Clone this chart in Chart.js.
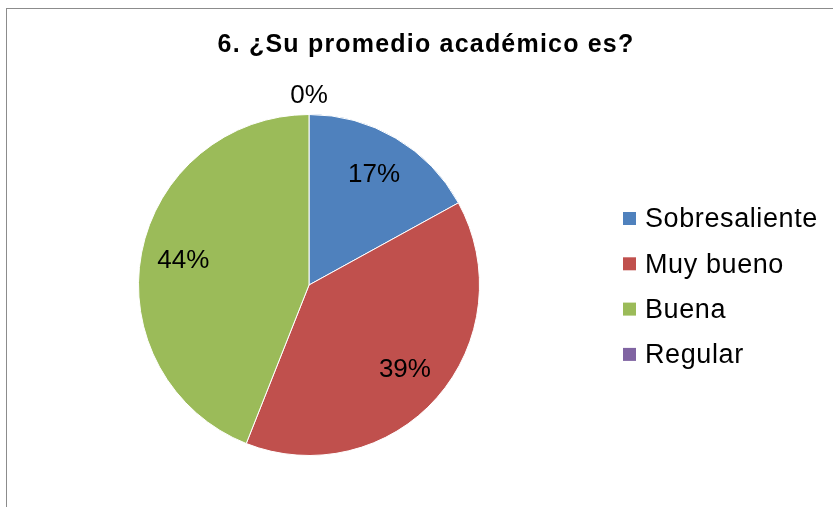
<!DOCTYPE html>
<html>
<head>
<meta charset="utf-8">
<script src="https://cdn.jsdelivr.net/npm/chart.js@4/dist/chart.umd.min.js"></script>
<style>
    body { margin: 0; background: #fff; }
    #frame { position: absolute; left: 6px; top: 8px; width: 900px; height: 600px; border: 1px solid #8c8c8c; }
    #wrap { position: absolute; left: 0; top: 0; width: 833px; height: 507px; }
</style>
</head>
<body>
<div id="frame"></div>
<div id="wrap"><canvas id="pieChart" width="833" height="507"></canvas></div>
<script>
const chartTitle = '6. ¿Su promedio académico es?';
const categories = ['Sobresaliente', 'Muy bueno', 'Buena', 'Regular'];
const percentages = [17, 39, 44, 0];
const colors = ['#4F81BD', '#C0504D', '#9BBB59', '#8064A2'];

const FONT = '"Liberation Sans", Arial, sans-serif';

// titulo, etiquetas y leyenda dibujados a mano
const decorations = {
    id: 'decorations',
    afterDatasetsDraw(chart) {
        const ctx = chart.ctx;
        ctx.save();

        // titulo
        ctx.fillStyle = '#000';
        ctx.font = 'bold 25px ' + FONT;
        ctx.textAlign = 'center';
        ctx.textBaseline = 'middle';
        if ('letterSpacing' in ctx) ctx.letterSpacing = '1.2px';
        ctx.fillText(chartTitle, 426, 45);
        if ('letterSpacing' in ctx) ctx.letterSpacing = '0px';

        // etiquetas de porcentaje
        ctx.font = '26px ' + FONT;
        chart.getDatasetMeta(0).data.forEach((arc, i) => {
            const p = arc.getProps(['x', 'y', 'startAngle', 'endAngle', 'outerRadius']);
            const mid = (p.startAngle + p.endAngle) / 2;
            const r = percentages[i] === 0 ? p.outerRadius * 1.11 : p.outerRadius * 0.75;
            ctx.fillText(percentages[i] + '%', p.x + Math.cos(mid) * r, p.y + Math.sin(mid) * r);
        });

        // leyenda
        ctx.font = '27px ' + FONT;
        ctx.textAlign = 'left';
        if ('letterSpacing' in ctx) ctx.letterSpacing = '0.6px';
        categories.forEach((cat, i) => {
            const y = 219 + i * 45.3;
            ctx.fillStyle = colors[i];
            ctx.fillRect(623, y - 7, 13, 13);
            ctx.fillStyle = '#000';
            ctx.fillText(cat, 645, y + 1);
        });
        ctx.restore();
    }
};

new Chart(document.getElementById('pieChart').getContext('2d'), {
    type: 'pie',
    data: {
        labels: categories,
        datasets: [{
            data: percentages,
            backgroundColor: colors,
            borderColor: '#fff',
            borderWidth: 1
        }]
    },
    options: {
        responsive: false,
        animation: false,
        layout: { padding: { left: 138, right: 353, top: 114, bottom: 51 } },
        plugins: {
            legend: { display: false },
            title: { display: false },
            tooltip: { enabled: false }
        }
    },
    plugins: [decorations]
});
</script>
</body>
</html>
